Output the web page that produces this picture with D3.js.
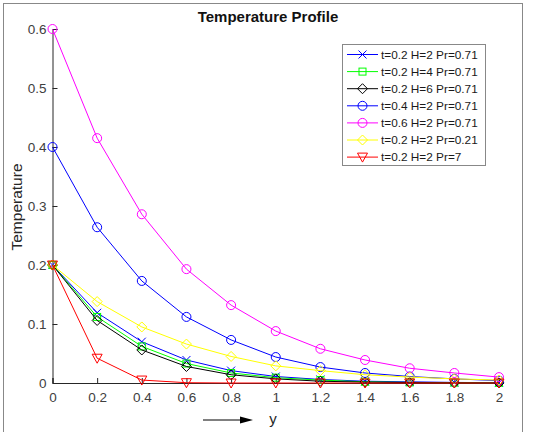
<!DOCTYPE html>
<html>
<head>
<meta charset="utf-8">
<script src="https://cdn.jsdelivr.net/npm/d3@7"></script>
<style>
  body { margin: 0; background: #fff; }
  svg { font-family: "Liberation Sans", Arial, sans-serif; }
</style>
</head>
<body>
<svg id="chart" width="534" height="432"></svg>
<script>
// y positions along the plate
const y_values = [0, 0.2, 0.4, 0.6, 0.8, 1.0, 1.2, 1.4, 1.6, 1.8, 2.0];

const series_names = [
  't=0.2 H=2 Pr=0.71',
  't=0.2 H=4 Pr=0.71',
  't=0.2 H=6 Pr=0.71',
  't=0.4 H=2 Pr=0.71',
  't=0.6 H=2 Pr=0.71',
  't=0.2 H=2 Pr=0.21',
  't=0.2 H=2 Pr=7'
];

const temp_t02_h2 = [0.2, 0.119, 0.070, 0.039, 0.021, 0.011, 0.006, 0.003, 0.002, 0.001, 0.0005];
const temp_t02_h4 = [0.2, 0.112, 0.062, 0.033, 0.017, 0.009, 0.005, 0.002, 0.001, 0.0006, 0.0003];
const temp_t02_h6 = [0.2, 0.106, 0.056, 0.028, 0.014, 0.007, 0.003, 0.0015, 0.0007, 0.0003, 0.0001];
const temp_t04_h2 = [0.4, 0.264, 0.173, 0.112, 0.073, 0.044, 0.027, 0.017, 0.011, 0.007, 0.004];
const temp_t06_h2 = [0.6, 0.415, 0.286, 0.193, 0.132, 0.088, 0.058, 0.039, 0.025, 0.017, 0.010];
const temp_pr021 = [0.2, 0.138, 0.095, 0.066, 0.045, 0.029, 0.021, 0.014, 0.010, 0.007, 0.005];
const temp_pr7 = [0.2, 0.042, 0.005, 0.0005, 0, 0, 0, 0, 0, 0, 0];

const x_ticks = [0, 0.2, 0.4, 0.6, 0.8, 1, 1.2, 1.4, 1.6, 1.8, 2];
const y_ticks = [0, 0.1, 0.2, 0.3, 0.4, 0.5, 0.6];

const all_series = [temp_t02_h2, temp_t02_h4, temp_t02_h6, temp_t04_h2, temp_t06_h2, temp_pr021, temp_pr7];
const colors = ['#0000ff', '#00ff00', '#000000', '#0000ff', '#ff00ff', '#ffff00', '#ff0000'];
const markers = ['cross', 'square', 'diamond', 'circle', 'circle', 'diamond', 'triangle'];

const svg = d3.select('#chart');

// figure frame
svg.append('rect')
  .attr('x', 3.5).attr('y', 3.5)
  .attr('width', 519).attr('height', 440)
  .attr('fill', 'none').attr('stroke', '#888').attr('stroke-width', 1);

const margin = {left: 52.5, top: 29, right: 499, bottom: 383};

const x = d3.scaleLinear().domain([0, 2]).range([margin.left, margin.right]);
const y = d3.scaleLinear().domain([0, 0.6]).range([margin.bottom, margin.top]);

// axes, matlab style ticks pointing inward
const x_axis = d3.axisBottom(x).tickValues(x_ticks).tickSize(-5).tickPadding(9)
  .tickFormat(d3.format('~g'));
const y_axis = d3.axisLeft(y).tickValues(y_ticks).tickSize(-5).tickPadding(6)
  .tickFormat(d3.format('~g'));

const gx = svg.append('g').attr('transform', 'translate(0,' + margin.bottom + ')').call(x_axis);
const gy = svg.append('g').attr('transform', 'translate(' + margin.left + ',0)').call(y_axis);

[gx, gy].forEach(function(g) {
  g.select('.domain').attr('stroke', '#262626');
  g.selectAll('.tick line').attr('stroke', '#262626');
  g.selectAll('.tick text').attr('fill', '#404040').attr('font-size', 13.5)
    .attr('font-family', '"Liberation Sans", Arial, sans-serif');
});

// title and labels
svg.append('text')
  .attr('x', 268).attr('y', 22)
  .attr('text-anchor', 'middle')
  .attr('font-size', 15).attr('font-weight', 'bold').attr('fill', '#111')
  .text('Temperature Profile');

svg.append('text')
  .attr('transform', 'translate(22,207) rotate(-90)')
  .attr('text-anchor', 'middle')
  .attr('font-size', 15.5).attr('fill', '#262626')
  .text('Temperature');

svg.append('text')
  .attr('x', 273).attr('y', 424)
  .attr('text-anchor', 'middle')
  .attr('font-size', 15).attr('fill', '#262626')
  .text('y');

// arrow next to the y label
svg.append('line')
  .attr('x1', 203).attr('y1', 420).attr('x2', 243).attr('y2', 420)
  .attr('stroke', '#000').attr('stroke-width', 1);
svg.append('path')
  .attr('d', 'M240,416.5 L253,420 L240,423.5 Z')
  .attr('fill', '#000');

const draw_marker = function(g, type, cx, cy, color) {
  if (type === 'circle') {
    g.append('circle').attr('cx', cx).attr('cy', cy).attr('r', 4.5)
      .attr('fill', 'none').attr('stroke', color);
  } else if (type === 'square') {
    g.append('rect').attr('x', cx - 3.5).attr('y', cy - 3.5).attr('width', 7).attr('height', 7)
      .attr('fill', 'none').attr('stroke', color);
  } else if (type === 'diamond') {
    g.append('path')
      .attr('d', 'M' + cx + ',' + (cy - 5) + ' L' + (cx + 5) + ',' + cy + ' L' + cx + ',' + (cy + 5) + ' L' + (cx - 5) + ',' + cy + ' Z')
      .attr('fill', 'none').attr('stroke', color);
  } else if (type === 'triangle') {
    g.append('path')
      .attr('d', 'M' + (cx - 5) + ',' + (cy - 4) + ' L' + (cx + 5) + ',' + (cy - 4) + ' L' + cx + ',' + (cy + 5) + ' Z')
      .attr('fill', 'none').attr('stroke', color);
  } else if (type === 'cross') {
    g.append('path')
      .attr('d', 'M' + (cx - 4) + ',' + (cy - 4) + ' L' + (cx + 4) + ',' + (cy + 4) + ' M' + (cx - 4) + ',' + (cy + 4) + ' L' + (cx + 4) + ',' + (cy - 4))
      .attr('fill', 'none').attr('stroke', color);
  }
};

const line = d3.line()
  .x(function(d, i) { return x(y_values[i]); })
  .y(function(d) { return y(d); });

const plot = svg.append('g');
all_series.forEach(function(values, k) {
  let g = plot.append('g');
  g.append('path').attr('d', line(values))
    .attr('fill', 'none').attr('stroke', colors[k]).attr('stroke-width', 1);
  values.forEach(function(v, i) {
    draw_marker(g, markers[k], x(y_values[i]), y(v), colors[k]);
  });
});

// legend
const legend = svg.append('g');
legend.append('rect')
  .attr('x', 342.5).attr('y', 44.5).attr('width', 143).attr('height', 121)
  .attr('fill', '#fff').attr('stroke', '#888').attr('stroke-width', 1);

series_names.forEach(function(name, k) {
  let ly = 54.5 + k * 17.1;
  legend.append('line')
    .attr('x1', 347).attr('x2', 378).attr('y1', ly).attr('y2', ly)
    .attr('stroke', colors[k]);
  draw_marker(legend, markers[k], 362.5, ly, colors[k]);
  legend.append('text')
    .attr('x', 381).attr('y', ly + 4)
    .attr('font-size', 11.8).attr('fill', '#1a1a1a')
    .text(name);
});
</script>
</body>
</html>
